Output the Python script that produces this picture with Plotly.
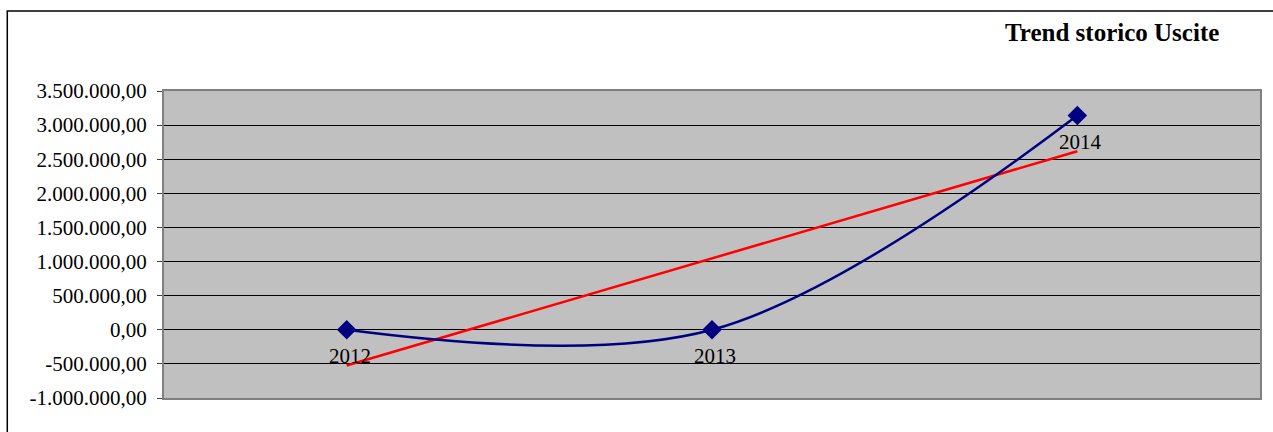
import numpy as np
import plotly.graph_objects as go

# Yearly expense totals
years = ["2012", "2013", "2014"]
uscite = [0, 0, 3140000]

# Y axis ticks in Italian number format
y_ticks = [-1000000, -500000, 0, 500000, 1000000, 1500000, 2000000, 2500000, 3000000, 3500000]
y_tick_labels = ["-1.000.000,00", "-500.000,00", "0,00", "500.000,00", "1.000.000,00",
                 "1.500.000,00", "2.000.000,00", "2.500.000,00", "3.000.000,00", "3.500.000,00"]

title_text = "Trend storico Uscite"

FONT = "Liberation Serif, Times New Roman, serif"

x_idx = np.arange(len(years))
slope, intercept = np.polyfit(x_idx, uscite, 1)
trend = slope * x_idx + intercept

fig = go.Figure()

# Linear trend line
fig.add_trace(go.Scatter(
    x=x_idx, y=trend, mode="lines",
    line=dict(color="#FF0000", width=2.5),
    hoverinfo="skip", showlegend=False,
))

# Smoothed series with diamond markers
fig.add_trace(go.Scatter(
    x=x_idx, y=uscite, mode="lines+markers",
    line=dict(color="#000080", width=2.5, shape="spline", smoothing=1),
    marker=dict(symbol="diamond", size=15, color="#000080"),
    showlegend=False,
))

# Year labels under each point
annotations = [
    dict(x=xi, y=yi, xref="x", yref="y", text=lab, showarrow=False,
         xanchor="center", yanchor="middle", xshift=3, yshift=-26,
         font=dict(family=FONT, size=21, color="#000000"))
    for xi, yi, lab in zip(x_idx, uscite, years)
]

annotations.append(dict(
    text="<b>" + title_text + "</b>", xref="paper", yref="paper",
    x=(1223 - 164) / 1098, y=(398 - 33) / 307,
    xanchor="right", yanchor="middle", showarrow=False,
    font=dict(family=FONT, size=25, color="#000000"),
))

fig.update_layout(
    width=1273, height=432,
    margin=dict(l=164, r=11, t=91, b=34),
    paper_bgcolor="#FFFFFF",
    plot_bgcolor="#C0C0C0",
    font=dict(family=FONT, size=21, color="#000000"),
    showlegend=False,
    xaxis=dict(
        range=[-0.5, 2.5], showticklabels=False, showgrid=False, zeroline=False,
        ticks="", showline=True, linecolor="#808080", linewidth=2, mirror=True,
        fixedrange=True,
    ),
    yaxis=dict(
        range=[-1000000, 3500000], tickvals=y_ticks, ticktext=y_tick_labels,
        showgrid=True, gridcolor="#000000", gridwidth=1,
        zeroline=True, zerolinecolor="#000000", zerolinewidth=1,
        ticks="outside", ticklen=5, tickcolor="#404040", tickwidth=1,
        showline=True, linecolor="#808080", linewidth=2, mirror=True,
        tickfont=dict(family=FONT, size=21, color="#000000"),
        ticklabelstandoff=6,
        fixedrange=True,
    ),
    annotations=annotations,
    shapes=[dict(
        type="rect", xref="paper", yref="paper",
        x0=(7 - 164) / 1098, x1=1.2, y0=-0.3, y1=(398 - 11) / 307,
        line=dict(color="#000000", width=1.5), fillcolor="rgba(0,0,0,0)",
        layer="below",
    )],
)

fig.write_html("out.html")
